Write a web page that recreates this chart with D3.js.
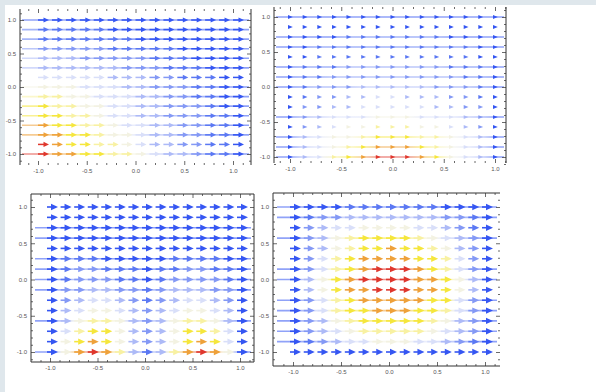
<!DOCTYPE html>
<html>
<head>
<meta charset="utf-8">
<script src="https://cdn.jsdelivr.net/npm/d3@7"></script>
<style>
body { margin: 0; background: #dfe7ec; }
svg { display: block; }
.axis text { font-family: "Liberation Sans", sans-serif; font-size: 6px; fill: #555; }
.axis line { stroke: #444; stroke-width: 0.8; }
</style>
</head>
<body>
<div id="chart"></div>
<script>
// sample grid: 15 columns (x = -1 .. 1) and 15 rows (y = 1 at top .. -1 at bottom)
let gridX = [-1, -0.857, -0.714, -0.571, -0.429, -0.286, -0.143, 0, 0.143, 0.286, 0.429, 0.571, 0.714, 0.857, 1];
let gridY = [1, 0.857, 0.714, 0.571, 0.429, 0.286, 0.143, 0, -0.143, -0.286, -0.429, -0.571, -0.714, -0.857, -1];

// colour level read per arrow: 0 = deep blue ... 4 = nearly white ... 9 = red
let gridA = [
    '000000000000000',
    '111110000000000',
    '111111100000000',
    '222221111100000',
    '333222221110000',
    '333333222111000',
    '444443332211100',
    '555444332221100',
    '665544433221100',
    '766554433222100',
    '776654433222110',
    '877665443322110',
    '887765543322110',
    '987766543322110',
    '988776654332110'
];
let gridB = [
    '000000000000000',
    '000000000000000',
    '000011111110000',
    '001111111111100',
    '001111111111100',
    '011122222221110',
    '011222222222110',
    '012223333322210',
    '012233443332210',
    '022334444433220',
    '023444555444320',
    '023455666554320',
    '034556777665430',
    '034567888765430',
    '034678999875430'
];
let gridC = [
    '000000000000000',
    '000000000000000',
    '000000000000000',
    '000000000000000',
    '000000000000000',
    '011100000111100',
    '012211101122110',
    '012221101222210',
    '022332212333220',
    '023443212344320',
    '034554323455430',
    '035665323566530',
    '046775323577640',
    '057875323578740',
    '058986313689850'
];
let gridD = [
    '000011111110000',
    '012233333332210',
    '023445555443210',
    '023567777654320',
    '023567787765320',
    '024678888776420',
    '024678999876420',
    '035789999887530',
    '035788999887530',
    '024678888877420',
    '024677888776420',
    '023567777765320',
    '023456666654320',
    '012344555443210',
    '000000000000000'
];

// rows (1 = top) that carry a stream line
let streamA = [1, 2, 3, 4, 5, 6, 8, 9, 10, 11, 12, 13, 15];
let streamB = [1, 3, 4, 6, 7, 8, 11, 13, 14, 15];
let streamC = [3, 4, 6, 7, 8, 9, 12, 15];
let streamD = [1, 2, 4, 7, 8, 10, 11, 12, 13, 14];

let majorTicks = [-1, -0.5, 0, 0.5, 1];
let majorLabels = ['-1.0', '-0.5', '0.0', '0.5', '1.0'];
let minorTicks = [-1.1, -0.9, -0.8, -0.7, -0.6, -0.4, -0.3, -0.2, -0.1, 0.1, 0.2, 0.3, 0.4, 0.6, 0.7, 0.8, 0.9, 1.1];

let levelColors = ['#3556f2', '#5b78f3', '#8499f5', '#adbaf7', '#d9dff9', '#f3f2e2', '#f8f1a2', '#f5e63c', '#eea13a', '#df372d'];

let width = 596;
let height = 392;

let color = d3.scaleLinear()
    .domain(d3.range(10))
    .range(levelColors);

let svg = d3.select('#chart')
    .append('svg')
    .attr('width', width)
    .attr('height', height);

svg.append('rect')
    .attr('x', 5).attr('y', 5)
    .attr('width', width - 5).attr('height', height - 5)
    .attr('fill', '#fff');

let defs = svg.append('defs');

let arrowStyles = {
    long: { tail: 0, base: 5.5, tip: 11, half: 2.6, shaft: 1.5 },
    dot: { tail: -2, base: -2, tip: 2.8, half: 1.9, shaft: 0 },
    big: { tail: -3, base: 1, tip: 8, half: 3.2, shaft: 1.6 }
};

let panels = [
    { id: 'a', grid: gridA, streams: streamA, arrow: 'long', x: [38, 233], y: [20, 154],
      frame: { l: 20, r: 251, t: 9, b: 165 }, lines: ['l', 'r'], stream: [22, 249] },
    { id: 'b', grid: gridB, streams: streamB, arrow: 'dot', x: [290, 495], y: [17, 157],
      frame: { l: 274, r: 506, t: 7, b: 163 }, lines: ['l', 'r'], stream: [276, 504] },
    { id: 'c', grid: gridC, streams: streamC, arrow: 'big', x: [50, 240], y: [207, 352],
      frame: { l: 31, r: 254, t: 194, b: 362 }, lines: ['l', 'r', 't', 'b'], stream: [35, 251] },
    { id: 'd', grid: gridD, streams: streamD, arrow: 'big', x: [293, 485], y: [207, 352],
      frame: { l: 273, r: 500, t: 193, b: 366 }, lines: ['l', 't', 'b'], stream: [277, 497] }
];

panels.forEach(p => {
    let xScale = d3.scaleLinear().domain([-1, 1]).range(p.x);
    let yScale = d3.scaleLinear().domain([-1, 1]).range([p.y[1], p.y[0]]);
    let g = svg.append('g').classed('plot', true);
    let st = arrowStyles[p.arrow];

    // stream lines with colour gradient along x
    p.streams.forEach(r => {
        let row = p.grid[r - 1];
        let gid = `grad-${p.id}-${r}`;
        let grad = defs.append('linearGradient')
            .attr('id', gid)
            .attr('gradientUnits', 'userSpaceOnUse')
            .attr('x1', xScale(-1)).attr('x2', xScale(1))
            .attr('y1', 0).attr('y2', 0);
        gridX.forEach((gx, i) => {
            grad.append('stop')
                .attr('offset', (gx + 1) / 2)
                .attr('stop-color', color(+row[i]));
        });
        let yy = yScale(gridY[r - 1]);
        g.append('line')
            .attr('x1', p.stream[0]).attr('x2', p.stream[1])
            .attr('y1', yy).attr('y2', yy)
            .attr('stroke', `url(#${gid})`)
            .attr('stroke-width', 1.6)
            .attr('stroke-opacity', 0.55);
    });

    // arrows
    let cells = [];
    p.grid.forEach((row, ri) => {
        row.split('').forEach((v, ci) => {
            cells.push({ x: gridX[ci], y: gridY[ri], v: +v });
        });
    });
    let arrows = g.selectAll('.arrow')
        .data(cells)
        .enter()
        .append('g')
        .classed('arrow', true)
        .attr('transform', d => `translate(${xScale(d.x)},${yScale(d.y)})`);
    if (st.shaft > 0) {
        arrows.append('line')
            .attr('x1', st.tail).attr('x2', st.base + 0.5)
            .attr('y1', 0).attr('y2', 0)
            .attr('stroke', d => color(d.v))
            .attr('stroke-width', st.shaft);
    }
    arrows.append('path')
        .attr('d', `M${st.base},${-st.half}L${st.tip},0L${st.base},${st.half}Z`)
        .attr('fill', d => color(d.v));

    // frame ticks
    let f = p.frame;
    let axes = [
        { gen: d3.axisLeft(yScale), t: `translate(${f.l},0)`, labels: true },
        { gen: d3.axisBottom(xScale), t: `translate(0,${f.b})`, labels: true },
        { gen: d3.axisTop(xScale), t: `translate(0,${f.t})`, labels: false },
        { gen: d3.axisRight(yScale), t: `translate(${f.r},0)`, labels: false }
    ];
    axes.forEach(a => {
        let major = a.gen.tickValues(majorTicks).tickSize(-4).tickPadding(4)
            .tickFormat((d, i) => a.labels ? majorLabels[i] : '');
        let ag = g.append('g').classed('axis', true).attr('transform', a.t).call(major);
        ag.select('.domain').remove();
        let minor = a.gen.tickValues(minorTicks).tickSize(-2).tickFormat('');
        let mg = g.append('g').classed('axis', true).attr('transform', a.t).call(minor);
        mg.select('.domain').remove();
    });

    // frame lines
    let sides = {
        l: [f.l, f.t, f.l, f.b],
        r: [f.r, f.t, f.r, f.b],
        t: [f.l, f.t, f.r, f.t],
        b: [f.l, f.b, f.r, f.b]
    };
    p.lines.forEach(s => {
        let c = sides[s];
        g.append('line')
            .attr('x1', c[0]).attr('y1', c[1]).attr('x2', c[2]).attr('y2', c[3])
            .attr('stroke', '#333')
            .attr('stroke-width', 1);
    });
});
</script>
</body>
</html>
